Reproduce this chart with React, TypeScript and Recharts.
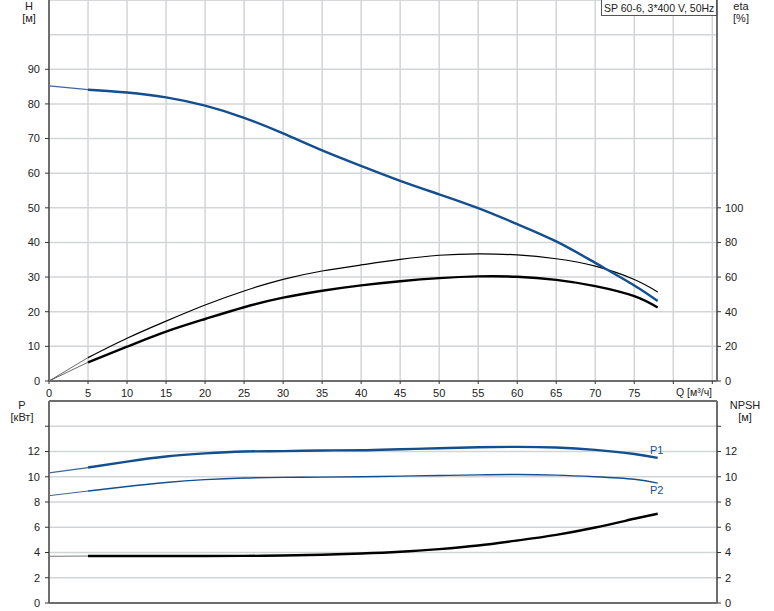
import React from 'react'
import { LineChart, Line, XAxis, YAxis, CartesianGrid, ReferenceLine, LabelList } from 'recharts'

// flow rate Q [m3/h] for the main (thick) part of each curve
const flow = [5, 10, 15, 20, 25, 30, 35, 40, 45, 50, 55, 60, 65, 70, 75, 78]
// thin lead-in segment from zero flow
const flowStart = [0, 5]

const head = [84.1, 83.3, 81.9, 79.5, 76.0, 71.5, 66.6, 62.1, 57.8, 53.9, 49.9, 45.3, 40.3, 34.1, 27.6, 23.1]
const headStart = [85.2, 84.1]

const etaPump = [13.5, 24.7, 34.6, 43.9, 52, 58.7, 63.5, 67, 70.2, 72.6, 73.4, 72.8, 70.6, 66.3, 58.6, 51.4]
const etaPumpStart = [0, 13.5]
const etaTotal = [10.8, 19.8, 28.5, 35.8, 42.6, 48.1, 52.1, 55.2, 57.6, 59.4, 60.4, 60.2, 58.4, 54.8, 49, 42.4]
const etaTotalStart = [0, 10.8]

const powerP1 = [10.73, 11.2, 11.6, 11.85, 12.0, 12.03, 12.08, 12.1, 12.18, 12.26, 12.34, 12.37, 12.32, 12.13, 11.8, 11.5]
const powerP1Start = [10.3, 10.73]
const powerP2 = [8.87, 9.23, 9.55, 9.77, 9.9, 9.95, 9.97, 10.0, 10.05, 10.1, 10.15, 10.18, 10.13, 10.0, 9.8, 9.5]
const powerP2Start = [8.5, 8.87]

const npsh = [3.72, 3.72, 3.72, 3.72, 3.73, 3.76, 3.82, 3.92, 4.06, 4.27, 4.55, 4.95, 5.4, 5.98, 6.67, 7.07]
const npshStart = [3.7, 3.72]

const qTicks = [0, 5, 10, 15, 20, 25, 30, 35, 40, 45, 50, 55, 60, 65, 70, 75, 80, 85]
const headTicks = [0, 10, 20, 30, 40, 50, 60, 70, 80, 90]
const etaTicks = [0, 20, 40, 60, 80, 100]
const powerTicks = [0, 2, 4, 6, 8, 10, 12, 14]

const pts = (xs: number[], ys: number[]) => xs.map((q, i) => ({ q, v: ys[i] }))

const BLUE = '#134f8e'
const GRID = '#d2d5d8'
const AXIS = '#6e6e6e'
const FONT = '"Liberation Sans", Arial, sans-serif'
const tickStyle = { fontSize: 11, fill: '#222', fontFamily: FONT }

const W = 774

function EndLabel(props: any) {
  const { x, y, index, value, text, dx, dy } = props
  if (index !== flow.length - 1 || value == null) return null
  return (
    <text x={x + dx} y={y + dy} fill={BLUE} fontSize={11} fontFamily={FONT} textAnchor="middle" dominantBaseline="middle">
      {text}
    </text>
  )
}

const titleStyle = (left: number, top: number, width: number): React.CSSProperties => ({
  position: 'absolute', left, top, width, textAlign: 'center', fontSize: 11, fontFamily: FONT, color: '#222', lineHeight: '12px'
})

export default function App() {
  return (
    <div style={{ position: 'absolute', left: 0, top: 0, width: W, height: 611, background: '#fff', overflow: 'hidden' }}>
      {/* Q-H and efficiency */}
      <div style={{ position: 'absolute', left: 0, top: 0 }}>
        <LineChart width={W} height={400} margin={{ top: 0, right: 0, bottom: 0, left: 0 }}>
          <CartesianGrid stroke={GRID} strokeWidth={1.5} yAxisId="h" />
          <XAxis
            dataKey="q"
            type="number"
            domain={[0, 85.6]}
            ticks={qTicks}
            allowDataOverflow
            height={19}
            tick={tickStyle}
            tickSize={3}
            tickMargin={5}
            tickFormatter={(v: number) => (v <= 75 ? String(v) : '')}
            axisLine={{ stroke: AXIS, strokeWidth: 2 }}
            tickLine={{ stroke: '#333' }}
          />
          <YAxis
            yAxisId="h"
            type="number"
            domain={[0, 110]}
            ticks={headTicks}
            width={49}
            tick={tickStyle}
            tickSize={4}
            tickMargin={5}
            axisLine={{ stroke: AXIS, strokeWidth: 2 }}
            tickLine={{ stroke: '#333' }}
          />
          <YAxis
            yAxisId="eta"
            orientation="right"
            type="number"
            domain={[0, 220]}
            ticks={etaTicks}
            width={57}
            tick={{ ...tickStyle, textAnchor: 'start' }}
            tickSize={4}
            tickMargin={4}
            axisLine={{ stroke: AXIS, strokeWidth: 2 }}
            tickLine={{ stroke: '#333' }}
          />
          <ReferenceLine yAxisId="h" y={100} stroke={GRID} strokeWidth={1.5} />
          <ReferenceLine yAxisId="h" y={110} stroke={GRID} strokeWidth={1.5} />

          <Line yAxisId="eta" data={pts(flowStart, etaPumpStart)} dataKey="v" type="linear" stroke="#444" strokeWidth={0.8} dot={false} isAnimationActive={false} />
          <Line yAxisId="eta" data={pts(flowStart, etaTotalStart)} dataKey="v" type="linear" stroke="#444" strokeWidth={0.8} dot={false} isAnimationActive={false} />
          <Line yAxisId="eta" data={pts(flow, etaPump)} dataKey="v" type="natural" stroke="#000" strokeWidth={1.2} dot={false} isAnimationActive={false} />
          <Line yAxisId="eta" data={pts(flow, etaTotal)} dataKey="v" type="natural" stroke="#000" strokeWidth={2.4} dot={false} isAnimationActive={false} />

          <Line yAxisId="h" data={pts(flowStart, headStart)} dataKey="v" type="linear" stroke="#3d6699" strokeWidth={1.3} dot={false} isAnimationActive={false} />
          <Line yAxisId="h" data={pts(flow, head)} dataKey="v" type="natural" stroke={BLUE} strokeWidth={2.4} dot={false} isAnimationActive={false} />
        </LineChart>
      </div>

      {/* power and NPSH */}
      <div style={{ position: 'absolute', left: 0, top: 400 }}>
        <LineChart width={W} height={211} margin={{ top: 1, right: 0, bottom: 0, left: 0 }}>
          <CartesianGrid stroke={GRID} strokeWidth={1.5} yAxisId="p" />
          <XAxis
            dataKey="q"
            type="number"
            domain={[0, 85.6]}
            ticks={qTicks}
            allowDataOverflow
            height={8}
            tick={false}
            tickLine={false}
            axisLine={{ stroke: AXIS, strokeWidth: 2 }}
          />
          <YAxis
            yAxisId="p"
            type="number"
            domain={[0, 16]}
            ticks={powerTicks}
            width={49}
            tick={tickStyle}
            tickSize={4}
            tickMargin={5}
            tickFormatter={(v: number) => (v === 14 ? '' : String(v))}
            axisLine={{ stroke: AXIS, strokeWidth: 2 }}
            tickLine={{ stroke: '#333' }}
          />
          <YAxis
            yAxisId="npsh"
            orientation="right"
            type="number"
            domain={[0, 16]}
            ticks={powerTicks}
            width={57}
            tick={{ ...tickStyle, textAnchor: 'start' }}
            tickSize={4}
            tickMargin={4}
            tickFormatter={(v: number) => (v === 14 ? '' : String(v))}
            axisLine={{ stroke: AXIS, strokeWidth: 2 }}
            tickLine={{ stroke: '#333' }}
          />
          <ReferenceLine yAxisId="p" y={16} stroke={AXIS} strokeWidth={2} />

          <Line yAxisId="npsh" data={pts(flowStart, npshStart)} dataKey="v" type="linear" stroke="#777" strokeWidth={1} dot={false} isAnimationActive={false} />
          <Line yAxisId="npsh" data={pts(flow, npsh)} dataKey="v" type="natural" stroke="#000" strokeWidth={2.4} dot={false} isAnimationActive={false} />

          <Line yAxisId="p" data={pts(flowStart, powerP1Start)} dataKey="v" type="linear" stroke="#3d6699" strokeWidth={1.3} dot={false} isAnimationActive={false} />
          <Line yAxisId="p" data={pts(flowStart, powerP2Start)} dataKey="v" type="linear" stroke="#3d6699" strokeWidth={1} dot={false} isAnimationActive={false} />
          <Line yAxisId="p" data={pts(flow, powerP1)} dataKey="v" type="natural" stroke={BLUE} strokeWidth={2.4} dot={false} isAnimationActive={false}>
            <LabelList dataKey="v" content={(p: any) => <EndLabel {...p} text="P1" dx={-1} dy={-7} />} />
          </Line>
          <Line yAxisId="p" data={pts(flow, powerP2)} dataKey="v" type="natural" stroke={BLUE} strokeWidth={1.4} dot={false} isAnimationActive={false}>
            <LabelList dataKey="v" content={(p: any) => <EndLabel {...p} text="P2" dx={-1} dy={8} />} />
          </Line>
        </LineChart>
      </div>

      {/* axis titles */}
      <div style={titleStyle(20, 0, 18)}>
        H<br />[м]
      </div>
      <div style={titleStyle(729, 0, 24)}>
        eta<br />[%]
      </div>
      <div style={titleStyle(7, 399, 30)}>
        P<br />[кВт]
      </div>
      <div style={titleStyle(727, 399, 36)}>
        NPSH<br />[м]
      </div>
      <div style={{ position: 'absolute', left: 676, top: 386, fontSize: 10.5, fontFamily: FONT, color: '#222', whiteSpace: 'nowrap', lineHeight: '12px' }}>
        Q [м³/ч]
      </div>

      {/* pump designation box */}
      <div
        style={{
          position: 'absolute', left: 601, top: -1, width: 116, height: 17, border: '1px solid #555', background: '#fff',
          fontSize: 10.5, fontFamily: FONT, color: '#222', lineHeight: '16px', paddingLeft: 2, boxSizing: 'border-box', whiteSpace: 'nowrap'
        }}
      >
        SP 60-6, 3*400 V, 50Hz
      </div>
    </div>
  )
}
